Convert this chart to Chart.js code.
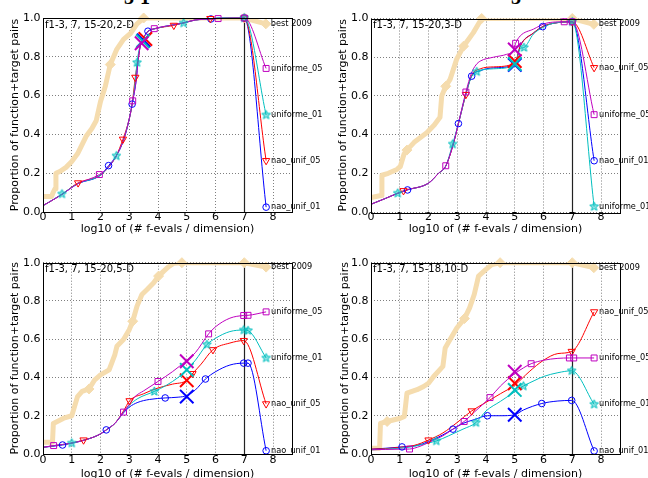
<!DOCTYPE html>
<html><head><meta charset="utf-8">
<script src="https://cdn.jsdelivr.net/npm/chart.js@4/dist/chart.umd.min.js"></script>
<style>
html,body{margin:0;padding:0;background:#fff;width:648px;height:478px;overflow:hidden;}
canvas{position:absolute;}
#cap{position:absolute;left:0;top:0;width:648px;height:7px;overflow:hidden;}
#cap span{position:absolute;font:bold 20px "Liberation Serif";line-height:20px;top:-13px;color:#000;}
</style></head><body>
<div id="cap"><span style="left:124px">3</span><span style="left:140px">1</span><span style="left:511px">3</span></div>
<canvas id="c0" width="324" height="240" style="left:0;top:0"></canvas>
<canvas id="c1" width="328" height="240" style="left:320px;top:0"></canvas>
<canvas id="c2" width="324" height="238" style="left:0;top:240px"></canvas>
<canvas id="c3" width="328" height="238" style="left:320px;top:240px"></canvas>
<script>
// ---------- DATA ----------
const xTicks = [0,1,2,3,4,5,6,7,8];
const yTicks = [0,0.2,0.4,0.6,0.8,1.0];
const budgetX = 7;
const panelTitles = ['f1-3, 7, 15-20,2-D','f1-3, 7, 15-20,3-D','f1-3, 7, 15-20,5-D','f1-3, 7, 15-18,10-D'];
const algoKeys = ['u05','u01','n05','n01'];
const algoNames = {u05:'uniforme_05', u01:'uniforme_01', n05:'nao_unif_05', n01:'nao_unif_01'};
const bestName = 'best 2009';

// Panel 1: 2-D
const tl_best = [[0,0.08],[0.3,0.08],[0.35,0.1],[0.42,0.12],[0.45,0.2],[0.6,0.21],[0.8,0.23],[1.0,0.26],[1.2,0.3],[1.5,0.39],[1.7,0.43],[1.85,0.47],[2.0,0.57],[2.17,0.65],[2.34,0.76],[2.57,0.84],[2.8,0.89],[3.04,0.92],[3.27,0.97],[3.5,1.0],[7.0,1.0],[7.75,0.97]];
const tl_best_mk = [[2.34,0.76],[3.5,1.0],[7.0,1.0],[7.75,0.97]];
const tl_u05 = [[0,0.033],[0.2,0.05],[0.65,0.09],[1.2,0.145],[1.96,0.193],[2.3,0.235],[2.55,0.29],[2.8,0.37],[3.0,0.48],[3.12,0.573],[3.25,0.69],[3.3,0.77],[3.4,0.87],[3.5,0.9],[3.65,0.93],[3.87,0.945],[4.55,0.965],[4.9,0.975],[5.3,0.99],[5.85,0.995],[6.09,0.997],[7.0,1.0],[7.76,0.74]];
const tl_u05_mk = [[1.96,0.193],[3.12,0.573],[3.87,0.945],[6.09,0.997],[7.0,1.0],[7.76,0.74]];
const tl_u01 = [[0,0.033],[0.2,0.05],[0.66,0.093],[1.2,0.145],[2.0,0.19],[2.3,0.235],[2.55,0.289],[2.8,0.37],[3.0,0.48],[3.1,0.556],[3.2,0.66],[3.27,0.77],[3.4,0.87],[3.5,0.9],[3.65,0.93],[3.9,0.945],[4.55,0.965],[4.89,0.974],[5.3,0.99],[5.85,0.995],[6.1,1.0],[7.0,1.0],[7.76,0.5]];
const tl_u01_mk = [[0.66,0.093],[2.55,0.289],[3.27,0.77],[4.89,0.974],[7.0,1.0],[7.76,0.5]];
const tl_n05 = [[0,0.033],[0.2,0.05],[0.65,0.09],[1.22,0.15],[2.0,0.19],[2.3,0.235],[2.55,0.29],[2.78,0.375],[3.0,0.48],[3.1,0.556],[3.21,0.694],[3.3,0.78],[3.4,0.87],[3.5,0.9],[3.65,0.93],[3.9,0.945],[4.55,0.962],[4.9,0.975],[5.3,0.99],[5.82,0.997],[7.0,1.0],[7.76,0.265]];
const tl_n05_mk = [[1.22,0.15],[2.78,0.375],[3.21,0.694],[4.55,0.962],[5.82,0.997],[7.0,1.0],[7.76,0.265]];
const tl_n01 = [[0,0.033],[0.2,0.05],[0.65,0.09],[1.2,0.145],[2.0,0.19],[2.28,0.239],[2.55,0.29],[2.8,0.37],[3.0,0.48],[3.1,0.556],[3.25,0.69],[3.3,0.77],[3.4,0.87],[3.5,0.9],[3.65,0.932],[3.9,0.945],[4.55,0.965],[4.9,0.975],[5.3,0.99],[5.84,0.995],[6.1,1.0],[7.0,1.0],[7.76,0.025]];
const tl_n01_mk = [[2.28,0.239],[3.1,0.556],[3.65,0.932],[5.84,0.995],[7.0,1.0],[7.76,0.025]];
const tl_xm = [[3.43,0.87],[3.47,0.88],[3.56,0.892],[3.5,0.885]];

// Panel 2: 3-D
const tr_best = [[0,0.075],[0.35,0.085],[0.38,0.19],[0.6,0.2],[0.9,0.22],[1.02,0.235],[1.15,0.3],[1.25,0.32],[1.5,0.36],[1.94,0.41],[2.2,0.45],[2.4,0.49],[2.46,0.6],[2.6,0.65],[2.75,0.685],[2.98,0.79],[3.22,0.857],[3.56,0.927],[3.85,1.0],[7.0,1.0],[7.75,0.97]];
const tr_best_mk = [[1.25,0.32],[2.6,0.65],[3.22,0.857],[3.85,1.0],[7.0,1.0],[7.75,0.97]];
const tr_u05 = [[0,0.04],[0.5,0.07],[0.9,0.095],[1.25,0.114],[2.0,0.149],[2.35,0.2],[2.6,0.239],[2.87,0.356],[3.04,0.457],[3.3,0.62],[3.5,0.72],[3.65,0.76],[3.8,0.78],[4.26,0.8],[4.72,0.815],[4.95,0.835],[5.03,0.872],[5.19,0.91],[5.65,0.945],[6.1,0.976],[6.72,0.983],[7.0,0.983],[7.76,0.503]];
const tr_u05_mk = [[2.6,0.239],[3.3,0.62],[5.03,0.872],[6.72,0.983],[7.0,0.983],[7.76,0.503]];
const tr_u01 = [[0,0.04],[0.5,0.07],[0.93,0.097],[1.25,0.114],[2.0,0.149],[2.35,0.2],[2.6,0.237],[2.84,0.351],[3.04,0.457],[3.3,0.61],[3.5,0.7],[3.68,0.725],[4.26,0.74],[5.0,0.76],[5.2,0.845],[5.32,0.85],[5.65,0.92],[6.0,0.955],[6.34,0.975],[7.0,0.983],[7.76,0.028]];
const tr_u01_mk = [[0.93,0.097],[2.84,0.351],[3.68,0.725],[5.32,0.85],[7.0,0.983],[7.76,0.028]];
const tr_n05 = [[0,0.04],[0.5,0.07],[0.9,0.095],[1.13,0.11],[2.0,0.149],[2.35,0.2],[2.6,0.237],[2.87,0.356],[3.04,0.457],[3.3,0.607],[3.5,0.705],[3.8,0.74],[4.26,0.75],[5.0,0.77],[5.2,0.86],[5.65,0.925],[6.0,0.96],[6.34,0.975],[7.0,0.983],[7.76,0.746]];
const tr_n05_mk = [[1.13,0.11],[3.3,0.607],[7.0,0.983],[7.76,0.746]];
const tr_n01 = [[0,0.04],[0.5,0.07],[0.9,0.095],[1.27,0.114],[2.0,0.149],[2.35,0.2],[2.6,0.237],[2.87,0.356],[3.04,0.457],[3.3,0.61],[3.5,0.702],[3.8,0.73],[4.26,0.745],[5.0,0.762],[5.19,0.858],[5.65,0.925],[5.97,0.958],[6.34,0.975],[7.0,0.983],[7.76,0.265]];
const tr_n01_mk = [[1.27,0.114],[3.04,0.457],[3.5,0.702],[5.97,0.958],[7.0,0.983],[7.76,0.265]];
const tr_xm = [[5,0.84],[5,0.765],[5,0.78],[5,0.76]];

// Panel 3: 5-D
const bl_best = [[0,0.061],[0.33,0.061],[0.36,0.16],[0.72,0.187],[1.0,0.2],[1.2,0.3],[1.36,0.327],[1.6,0.34],[1.8,0.388],[2.0,0.414],[2.3,0.44],[2.5,0.52],[2.57,0.563],[2.8,0.598],[3.0,0.65],[3.12,0.694],[3.27,0.773],[3.44,0.834],[3.62,0.86],[3.85,0.895],[4.02,0.93],[4.2,0.956],[4.37,0.979],[4.55,0.997],[4.83,1.0],[7.0,1.0],[7.76,0.977]];
const bl_best_mk = [[1.6,0.34],[3.12,0.694],[4.02,0.93],[4.83,1.0],[7.0,1.0],[7.76,0.977]];
const bl_u05 = [[0,0.035],[0.37,0.044],[1.0,0.057],[1.5,0.075],[2.0,0.105],[2.2,0.126],[2.5,0.16],[2.8,0.219],[3.0,0.26],[3.2,0.3],[3.5,0.33],[4.0,0.379],[4.5,0.43],[5.0,0.49],[5.3,0.53],[5.76,0.628],[6.0,0.665],[6.5,0.71],[6.98,0.724],[7.13,0.725],[7.76,0.743]];
const bl_u05_mk = [[0.37,0.044],[2.8,0.219],[4.0,0.379],[5.76,0.628],[6.98,0.724],[7.13,0.725],[7.76,0.743]];
const bl_u01 = [[0,0.035],[0.5,0.046],[1.0,0.057],[1.5,0.075],[2.0,0.105],[2.2,0.126],[2.5,0.16],[2.8,0.219],[3.0,0.255],[3.3,0.29],[3.87,0.327],[4.3,0.36],[4.7,0.4],[5.0,0.44],[5.3,0.49],[5.7,0.572],[6.0,0.605],[6.5,0.64],[6.98,0.648],[7.13,0.645],[7.76,0.502]];
const bl_u01_mk = [[1.0,0.057],[3.87,0.327],[5.7,0.572],[6.98,0.648],[7.13,0.645],[7.76,0.502]];
const bl_n05 = [[0,0.035],[0.5,0.046],[1.0,0.057],[1.41,0.073],[1.7,0.085],[2.0,0.105],[2.2,0.126],[2.5,0.16],[2.8,0.225],[3.01,0.278],[3.5,0.315],[4.0,0.345],[4.5,0.365],[5.0,0.385],[5.2,0.42],[5.5,0.47],[5.91,0.545],[6.5,0.58],[6.98,0.593],[7.76,0.262]];
const bl_n05_mk = [[1.41,0.073],[3.01,0.278],[5.2,0.42],[5.91,0.545],[6.98,0.593],[7.76,0.262]];
const bl_n01 = [[0,0.035],[0.68,0.047],[1.0,0.057],[1.5,0.075],[2.0,0.105],[2.2,0.126],[2.5,0.16],[2.8,0.215],[3.0,0.245],[3.3,0.27],[3.7,0.285],[4.25,0.293],[4.7,0.297],[5.0,0.305],[5.3,0.335],[5.65,0.392],[6.0,0.43],[6.5,0.465],[6.98,0.475],[7.13,0.475],[7.76,0.017]];
const bl_n01_mk = [[0.68,0.047],[2.2,0.126],[4.25,0.293],[5.65,0.392],[6.98,0.475],[7.13,0.475],[7.76,0.017]];
const bl_xm = [[5,0.485],[5,0.44],[5,0.385],[5,0.30]];

// Panel 4: 10-D
const br_best = [[0,0.03],[0.3,0.03],[0.33,0.16],[0.56,0.17],[1.02,0.187],[1.16,0.196],[1.25,0.318],[1.6,0.336],[1.83,0.353],[2.0,0.37],[2.18,0.405],[2.5,0.458],[2.58,0.554],[2.75,0.598],[2.99,0.66],[3.25,0.708],[3.43,0.764],[3.59,0.834],[3.74,0.93],[4.0,0.965],[4.2,0.99],[4.49,1.0],[7.0,1.0],[7.75,0.974]];
const br_best_mk = [[0.56,0.17],[3.25,0.708],[4.49,1.0],[7.0,1.0],[7.75,0.974]];
const br_u05 = [[0,0.022],[0.5,0.024],[1.0,0.025],[1.34,0.026],[1.7,0.04],[2.0,0.06],[2.5,0.095],[2.85,0.13],[3.24,0.17],[3.6,0.22],[4.14,0.295],[4.5,0.355],[5.0,0.42],[5.3,0.45],[5.57,0.472],[6.0,0.49],[6.5,0.5],[6.9,0.502],[7.05,0.502],[7.76,0.502]];
const br_u05_mk = [[1.34,0.026],[3.24,0.17],[4.14,0.295],[5.57,0.472],[6.9,0.502],[7.05,0.502],[7.76,0.502]];
const br_u01 = [[0,0.022],[1.0,0.03],[1.5,0.04],[2.0,0.058],[2.27,0.068],[2.7,0.095],[3.2,0.13],[3.65,0.164],[4.0,0.225],[4.5,0.275],[5.0,0.325],[5.3,0.355],[5.7,0.385],[6.0,0.405],[6.5,0.425],[6.98,0.435],[7.76,0.26]];
const br_u01_mk = [[2.27,0.068],[3.65,0.164],[5.3,0.355],[6.98,0.435],[7.76,0.26]];
const br_n05 = [[0,0.025],[0.5,0.028],[1.0,0.035],[1.5,0.045],[2.0,0.073],[2.5,0.11],[3.0,0.165],[3.5,0.225],[4.0,0.27],[4.5,0.315],[5.0,0.36],[5.5,0.43],[6.0,0.49],[6.5,0.525],[6.98,0.536],[7.76,0.743]];
const br_n05_mk = [[2.0,0.073],[3.5,0.225],[6.98,0.536],[7.76,0.743]];
const br_n01 = [[0,0.025],[0.5,0.03],[1.08,0.037],[1.6,0.045],[2.0,0.065],[2.5,0.1],[2.85,0.13],[3.2,0.16],[3.6,0.18],[4.05,0.2],[4.5,0.2],[5.0,0.205],[5.3,0.23],[5.94,0.264],[6.5,0.277],[6.98,0.28],[7.76,0.016]];
const br_n01_mk = [[1.08,0.037],[2.85,0.13],[4.05,0.2],[5.94,0.264],[6.98,0.28],[7.76,0.016]];
const br_xm = [[5,0.43],[5,0.335],[5,0.37],[5,0.205]];

// ---------- STYLE / LAYOUT ----------
const COLORS = {u05:'#bf00bf', u01:'#00bfbf', n05:'#ff0000', n01:'#0000ff'};
const BEST_COLOR = '#f5dcae';
const FONT = '"DejaVu Sans", "Liberation Sans", sans-serif';

const panels = [
  {id:'c0', title:panelTitles[0], best:tl_best, bestMk:tl_best_mk,
   s:{u05:tl_u05,u01:tl_u01,n05:tl_n05,n01:tl_n01}, mk:{u05:tl_u05_mk,u01:tl_u01_mk,n05:tl_n05_mk,n01:tl_n01_mk}, xm:tl_xm,
   L:{yW:43, padTop:18, padRight:32, xH:28, yTitlePad:8.4, xTitlePad:4.4, xTickPad:-1.5}},
  {id:'c1', title:panelTitles[1], best:tr_best, bestMk:tr_best_mk,
   s:{u05:tr_u05,u01:tr_u01,n05:tr_n05,n01:tr_n01}, mk:{u05:tr_u05_mk,u01:tr_u01_mk,n05:tr_n05_mk,n01:tr_n01_mk}, xm:tr_xm,
   L:{yW:51, padTop:18.5, padRight:28, xH:28, yTitlePad:16.4, xTitlePad:4.4, xTickPad:-1.5}},
  {id:'c2', title:panelTitles[2], best:bl_best, bestMk:bl_best_mk,
   s:{u05:bl_u05,u01:bl_u01,n05:bl_n05,n01:bl_n01}, mk:{u05:bl_u05_mk,u01:bl_u01_mk,n05:bl_n05_mk,n01:bl_n01_mk}, xm:bl_xm,
   L:{yW:43, padTop:22.7, padRight:32, xH:24, yTitlePad:8.4, xTitlePad:-2.5, xTickPad:-0.5}},
  {id:'c3', title:panelTitles[3], best:br_best, bestMk:br_best_mk,
   s:{u05:br_u05,u01:br_u01,n05:br_n05,n01:br_n01}, mk:{u05:br_u05_mk,u01:br_u01_mk,n05:br_n05_mk,n01:br_n01_mk}, xm:br_xm,
   L:{yW:51, padTop:22.7, padRight:28, xH:24, yTitlePad:18.4, xTitlePad:-2.5, xTickPad:-0.5}}
];

function starImg(color, r) {
  const c = document.createElement('canvas');
  const s = Math.ceil(r * 2 + 3);
  c.width = s; c.height = s;
  const g = c.getContext('2d');
  g.translate(s / 2, s / 2);
  g.beginPath();
  for (let i = 0; i < 10; i++) {
    const rr = i % 2 ? r * 0.45 : r;
    const a = -Math.PI / 2 + i * Math.PI / 5;
    g.lineTo(rr * Math.cos(a), rr * Math.sin(a));
  }
  g.closePath();
  g.fillStyle = 'rgba(0,191,191,0.45)'; g.fill();
  g.strokeStyle = color; g.lineWidth = 1; g.stroke();
  return c;
}
const STAR = starImg(COLORS.u01, 4.6);
const MARK = {
  u05: {pointStyle:'rect', pointRadius:4.2, rot:0},
  u01: {pointStyle:STAR, pointRadius:4.6, rot:0},
  n05: {pointStyle:'triangle', pointRadius:4.2, rot:180},
  n01: {pointStyle:'circle', pointRadius:3.3, rot:0}
};

const P = a => a.map(p => ({x:p[0], y:p[1]}));

function buildDatasets(p) {
  const ds = [];
  algoKeys.forEach((k, i) => ds.push({
    data: P([p.xm[i]]), showLine:false, pointStyle:'crossRot', pointRadius:9.5,
    borderColor:COLORS[k], borderWidth:2, backgroundColor:'transparent', order:0, clip:false
  }));
  algoKeys.forEach(k => ds.push({
    data: P(p.mk[k]), showLine:false, pointStyle:MARK[k].pointStyle, pointRadius:MARK[k].pointRadius,
    pointRotation:MARK[k].rot, borderColor:COLORS[k], backgroundColor:'transparent', borderWidth:1, order:1, clip:false
  }));
  algoKeys.forEach(k => ds.push({
    data: P(p.s[k]), showLine:true, pointRadius:0, borderColor:COLORS[k], borderWidth:1,
    cubicInterpolationMode:'monotone', order:2, clip:false
  }));
  ds.push({data:P(p.bestMk), showLine:false, pointStyle:'rectRot', pointRadius:5,
    backgroundColor:BEST_COLOR, borderColor:BEST_COLOR, borderWidth:1, order:3, clip:false});
  ds.push({data:P(p.best), showLine:true, pointRadius:0, borderColor:BEST_COLOR, borderWidth:5,
    borderJoinStyle:'round', borderCapStyle:'round', order:4, clip:0});
  return ds;
}

const decor = {
  id:'decor',
  beforeDatasetsDraw(chart, args, o) {
    const {ctx, chartArea:a, scales:{x}} = chart;
    const px = Math.round(x.getPixelForValue(budgetX)) + 0.5;
    ctx.save();
    ctx.strokeStyle = '#222'; ctx.lineWidth = 1.2;
    ctx.beginPath(); ctx.moveTo(px, a.top); ctx.lineTo(px, a.bottom); ctx.stroke();
    ctx.restore();
  },
  afterDatasetsDraw(chart, args, o) {
    const {ctx, chartArea:a, scales:{x, y}} = chart;
    ctx.save();
    ctx.strokeStyle = '#000'; ctx.lineWidth = 1;
    ctx.strokeRect(Math.round(a.left) + 0.5, Math.round(a.top) + 0.5, Math.round(a.right - a.left), Math.round(a.bottom - a.top));
    ctx.fillStyle = '#000';
    ctx.font = '10px ' + FONT;
    ctx.textBaseline = 'middle'; ctx.textAlign = 'left';
    ctx.fillText(o.title, a.left + 2, a.top + 7);
    ctx.font = '8.2px ' + FONT;
    o.labels.forEach(l => {
      ctx.fillText(l.text, x.getPixelForValue(l.x) + 5, y.getPixelForValue(l.y));
    });
    ctx.restore();
  }
};

panels.forEach(p => {
  const L = p.L;
  const labels = [{text:bestName, x:p.best[p.best.length-1][0], y:p.best[p.best.length-1][1]}];
  algoKeys.forEach(k => { const last = p.s[k][p.s[k].length-1]; labels.push({text:algoNames[k], x:last[0], y:last[1]}); });
  new Chart(document.getElementById(p.id), {
    type:'scatter',
    data:{datasets:buildDatasets(p)},
    options:{
      animation:false, responsive:false, devicePixelRatio:1, events:[],
      layout:{padding:{top:L.padTop, right:L.padRight, left:0, bottom:0}},
      plugins:{legend:{display:false}, tooltip:{enabled:false}, decor:{title:p.title, labels:labels}},
      scales:{
        x:{type:'linear', min:0, max:8.66,
          afterBuildTicks:s => { s.ticks = xTicks.map(v => ({value:v})); },
          afterFit:s => { s.height = L.xH; },
          grid:{color:'rgba(0,0,0,0.5)', lineWidth:1, drawTicks:false},
          border:{display:false, dash:[1,2]},
          ticks:{color:'#000', font:{family:FONT, size:11, lineHeight:1.2}, padding:L.xTickPad, maxRotation:0, autoSkip:false,
            callback:v => String(v)},
          title:{display:true, text:'log10 of (# f-evals / dimension)', color:'#000',
            font:{family:FONT, size:11, lineHeight:1.2}, padding:{top:0, bottom:L.xTitlePad}}
        },
        y:{type:'linear', min:0, max:1,
          afterBuildTicks:s => { s.ticks = yTicks.map(v => ({value:v})); },
          afterFit:s => { s.width = L.yW; },
          grid:{color:'rgba(0,0,0,0.5)', lineWidth:1, drawTicks:false},
          border:{display:false, dash:[1,2]},
          ticks:{color:'#000', font:{family:FONT, size:11, lineHeight:1.2}, padding:2.5,
            callback:v => v.toFixed(1)},
          title:{display:true, text:'Proportion of function+target pairs', color:'#000',
            font:{family:FONT, size:11, lineHeight:1.2}, padding:{top:L.yTitlePad, bottom:0}}
        }
      }
    },
    plugins:[decor]
  });
});
</script>
</body></html>
